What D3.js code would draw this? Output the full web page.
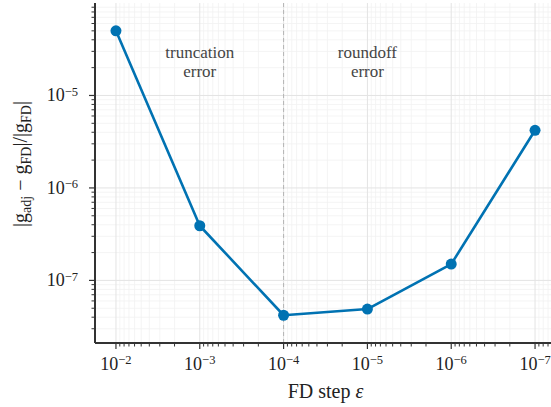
<!DOCTYPE html>
<html>
<head>
<meta charset="utf-8">
<script src="https://cdn.jsdelivr.net/npm/d3@7"></script>
<style>
  body { margin: 0; background: #fff; }
</style>
</head>
<body>
<svg id="chart"></svg>
<script>
// data
var steps = [1e-2, 1e-3, 1e-4, 1e-5, 1e-6, 1e-7]
var relErr = [5.0e-5, 3.9e-7, 4.2e-8, 4.9e-8, 1.5e-7, 4.2e-6]
var xTickExp = [-2, -3, -4, -5, -6, -7]
var yTickExp = [-5, -6, -7]
var regionLabels = [
  {x: 1e-3, lines: ["truncation", "error"]},
  {x: 1e-5, lines: ["roundoff", "error"]}
]
var splitStep = 1e-4

var FONT = "'Liberation Serif', 'Times New Roman', Times, serif"
var W = 551, H = 407
var margin = {top: 3, right: -5, bottom: 64, left: 95},
  width = W - margin.left - margin.right,
  height = H - margin.top - margin.bottom;

var svg = d3.select("#chart")
  .attr("width", W)
  .attr("height", H)
  .attr("font-family", FONT)
  .append("g")
  .attr("transform", "translate(" + margin.left + "," + margin.top + ")");

// reversed log x axis, 5% padding each side
var x = d3.scaleLog()
  .domain([Math.pow(10, -1.75), Math.pow(10, -7.25)])
  .range([0, width]);

var y = d3.scaleLog()
  .domain([Math.pow(10, -7.677), 1e-4])
  .range([height, 0]);

function minors(lo, hi) {
  var out = []
  for (var e = lo; e <= hi; e++) {
    for (var k = 2; k <= 9; k++) out.push(k * Math.pow(10, e))
  }
  return out
}
var xMinor = minors(-8, -2).filter(function(v) { return v < x.domain()[0] && v > x.domain()[1] })
var yMinor = minors(-8, -5).filter(function(v) { return v > y.domain()[0] && v < y.domain()[1] })
var xMajor = xTickExp.map(function(e) { return Math.pow(10, e) })
var yMajor = yTickExp.map(function(e) { return Math.pow(10, e) })

// grid
var grid = svg.append("g").attr("class", "grid")
grid.selectAll(".xminor").data(xMinor).enter().append("line")
  .attr("x1", d => x(d)).attr("x2", d => x(d)).attr("y1", 0).attr("y2", height)
  .attr("stroke", "#f1f1f1").attr("stroke-width", 0.8)
grid.selectAll(".yminor").data(yMinor).enter().append("line")
  .attr("y1", d => y(d)).attr("y2", d => y(d)).attr("x1", 0).attr("x2", width)
  .attr("stroke", "#f1f1f1").attr("stroke-width", 0.8)
grid.selectAll(".xmajor").data(xMajor).enter().append("line")
  .attr("x1", d => x(d)).attr("x2", d => x(d)).attr("y1", 0).attr("y2", height)
  .attr("stroke", "#e3e3e3").attr("stroke-width", 1)
grid.selectAll(".ymajor").data(yMajor).enter().append("line")
  .attr("y1", d => y(d)).attr("y2", d => y(d)).attr("x1", 0).attr("x2", width)
  .attr("stroke", "#e3e3e3").attr("stroke-width", 1)

// split line between the two regimes
svg.append("line")
  .attr("x1", x(splitStep)).attr("x2", x(splitStep))
  .attr("y1", 0).attr("y2", height)
  .attr("stroke", "#b5b5b5").attr("stroke-width", 1)
  .attr("stroke-dasharray", "4,3")

// region labels (one text per line)
regionLabels.forEach(function(r) {
  r.lines.forEach(function(s, i) {
    svg.append("text")
      .attr("x", x(r.x))
      .attr("y", 55 + i * 18.5)
      .attr("text-anchor", "middle")
      .attr("fill", "#454545")
      .style("font-size", "17px")
      .text(s)
  })
})

// axes
var xAxis = svg.append("g").attr("transform", "translate(0," + height + ")")
xAxis.selectAll(".minor").data(xMinor).enter().append("line")
  .attr("x1", d => x(d)).attr("x2", d => x(d)).attr("y1", 0).attr("y2", 3.5)
  .attr("stroke", "#333").attr("stroke-width", 1)
xAxis.selectAll(".major").data(xMajor).enter().append("line")
  .attr("x1", d => x(d)).attr("x2", d => x(d)).attr("y1", 0).attr("y2", 6)
  .attr("stroke", "#333").attr("stroke-width", 1.2)
var xl = xAxis.selectAll(".lbl").data(xTickExp).enter().append("text")
  .attr("x", d => x(Math.pow(10, d)))
  .attr("y", 27)
  .attr("text-anchor", "middle")
  .attr("fill", "#222")
  .style("font-size", "18px")
xl.append("tspan").text("10")
xl.append("tspan").attr("dy", "-0.45em").style("font-size", "12.5px").text(d => "\u2212" + Math.abs(d))
xAxis.append("line").attr("x1", 0).attr("x2", width).attr("y1", 0).attr("y2", 0)
  .attr("stroke", "#333").attr("stroke-width", 2)

var yAxis = svg.append("g")
yAxis.selectAll(".minor").data(yMinor).enter().append("line")
  .attr("y1", d => y(d)).attr("y2", d => y(d)).attr("x1", 0).attr("x2", -3.5)
  .attr("stroke", "#333").attr("stroke-width", 1)
yAxis.selectAll(".major").data(yMajor).enter().append("line")
  .attr("y1", d => y(d)).attr("y2", d => y(d)).attr("x1", 0).attr("x2", -6)
  .attr("stroke", "#333").attr("stroke-width", 1.2)
var yl = yAxis.selectAll(".lbl").data(yTickExp).enter().append("text")
  .attr("x", -17)
  .attr("y", d => y(Math.pow(10, d)) + 6)
  .attr("text-anchor", "end")
  .attr("fill", "#222")
  .style("font-size", "18px")
yl.append("tspan").text("10")
yl.append("tspan").attr("dy", "-0.45em").style("font-size", "12.5px").text(d => "\u2212" + Math.abs(d))
yAxis.append("line").attr("x1", 0).attr("x2", 0).attr("y1", 0).attr("y2", height)
  .attr("stroke", "#333").attr("stroke-width", 2)

// axis titles
var xt = svg.append("text")
  .attr("x", width / 2)
  .attr("y", height + 55)
  .attr("text-anchor", "middle")
  .attr("fill", "#222")
  .style("font-size", "20px")
xt.append("tspan").text("FD step ")
xt.append("tspan").style("font-style", "italic").text("\u03b5")

var yt = svg.append("text")
  .attr("transform", "translate(" + (27 - margin.left) + "," + (height / 2 - 9) + ") rotate(-90)")
  .attr("text-anchor", "middle")
  .attr("fill", "#222")
  .style("font-size", "20px")
yt.append("tspan").text("|g")
yt.append("tspan").attr("dy", 4).style("font-size", "14px").text("adj")
yt.append("tspan").attr("dy", -4).text(" \u2212 g")
yt.append("tspan").attr("dy", 4).style("font-size", "14px").text("FD")
yt.append("tspan").attr("dy", -4).text("|/|g")
yt.append("tspan").attr("dy", 4).style("font-size", "14px").text("FD")
yt.append("tspan").attr("dy", -4).text("|")

// series
var pts = steps.map(function(s, i) { return [s, relErr[i]] })
var line = d3.line()
  .x(d => x(d[0]))
  .y(d => y(d[1]))

svg.append("path")
  .datum(pts)
  .attr("fill", "none")
  .attr("stroke", "#0072B2")
  .attr("stroke-width", 2.6)
  .attr("stroke-linejoin", "round")
  .attr("d", line)

svg.selectAll(".dot")
  .data(pts)
  .enter()
  .append("circle")
  .attr("cx", d => x(d[0]))
  .attr("cy", d => y(d[1]))
  .attr("r", 5.5)
  .attr("fill", "#0072B2")
</script>
</body>
</html>
